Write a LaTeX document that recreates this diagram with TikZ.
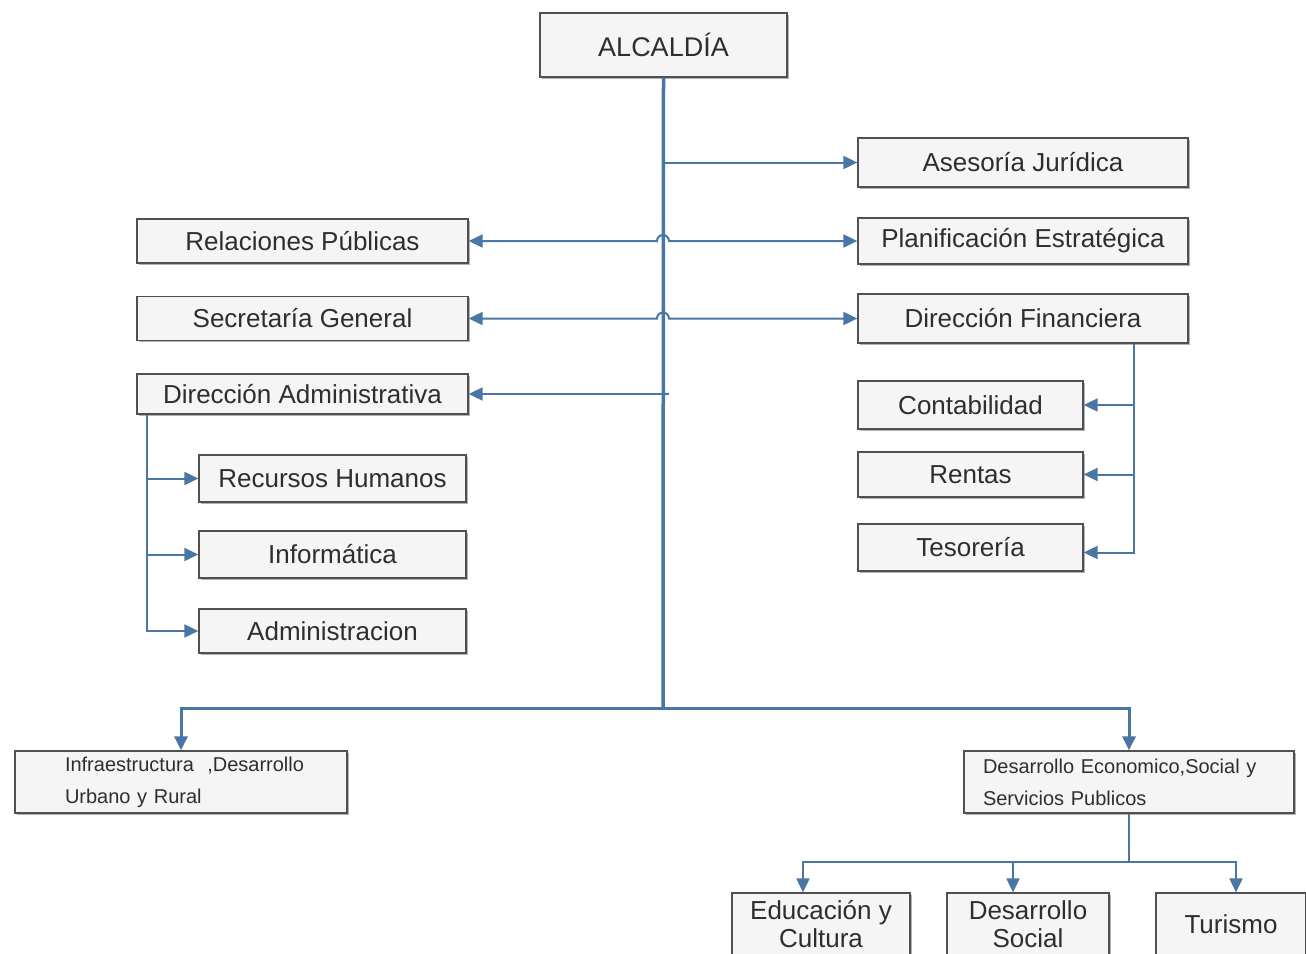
\documentclass[tikz,border=0pt]{standalone}
\usepackage{fontspec}
\setmainfont{Liberation Sans}
\usetikzlibrary{arrows.meta,shadows}
\definecolor{lblue}{HTML}{4A76A6}
\definecolor{boxline}{HTML}{505050}
\definecolor{txt}{HTML}{2E2E2E}
\tikzset{
  box/.style={draw=boxline, line width=1.3pt, fill=black!4, inner sep=0pt, text=txt,
    font=\fontsize{26}{30}\selectfont,
    copy shadow={shadow xshift=1.8pt, shadow yshift=-1.8pt, draw=none, fill=black!30}},
  smallbox/.style={box, font=\fontsize{20}{32}\selectfont, align=left},
  ln/.style={draw=lblue, line width=2pt},
  tip/.tip={Triangle[length=14pt,width=13pt]},
  arr/.style={ln, -tip},
  barr/.style={ln, tip-tip},
}
\begin{document}
\begin{tikzpicture}[x=1pt,y=-1pt]
\path[use as bounding box] (0,0) rectangle (1306,953);
\clip (0,0) rectangle (1306,953);
\fill[white] (0,0) rectangle (1306,953);

% nodes
\node[box, minimum width=247pt, minimum height=64pt, font=\fontsize{27}{30}\selectfont] (alc) at (663.5,45) {ALCALDÍA};
\node[box, minimum width=330pt, minimum height=49pt] (aj) at (1023,162.5) {Asesoría Jurídica};
\node[box, minimum width=330pt, minimum height=46pt] (pe) at (1023,241) {Planificación Estratégica};
\node[box, minimum width=330pt, minimum height=49pt] (df) at (1023,318.5) {Dirección Financiera};
\node[box, minimum width=331pt, minimum height=44pt] (rp) at (302.5,241) {Relaciones Públicas};
\node[box, minimum width=331pt, minimum height=44pt] (sg) at (302.5,318.5) {Secretaría General};
\node[box, minimum width=331pt, minimum height=40pt] (da) at (302.5,394) {Dirección Administrativa};
\node[box, minimum width=267pt, minimum height=47pt] (rh) at (332.5,478.5) {Recursos Humanos};
\node[box, minimum width=267pt, minimum height=47pt] (inf) at (332.5,554.5) {Informática};
\node[box, minimum width=267pt, minimum height=44pt] (adm) at (332.5,631) {Administracion};
\node[box, minimum width=225pt, minimum height=48pt] (con) at (970.5,405) {Contabilidad};
\node[box, minimum width=225pt, minimum height=45pt] (ren) at (970.5,474.5) {Rentas};
\node[box, minimum width=225pt, minimum height=47pt] (tes) at (970.5,547.5) {Tesorería};
\node[smallbox, minimum width=332pt, minimum height=62pt, text width=232pt, inner xsep=50pt] (iur) at (181,782)
  {\mbox{Infraestructura \ ,Desarrollo}\\\mbox{Urbano y Rural}};
\node[smallbox, minimum width=330pt, minimum height=62pt, text width=292pt, inner xsep=19pt] (dep) at (1129,782)
  {\mbox{Desarrollo Economico,Social y}\\\mbox{Servicios Publicos}};
\node[box, minimum width=178pt, minimum height=62pt, align=center, font=\fontsize{26}{28}\selectfont] (edu) at (821,924) {Educación y\\Cultura};
\node[box, minimum width=162pt, minimum height=62pt, align=center, font=\fontsize{26}{28}\selectfont] (ds) at (1028,924) {Desarrollo\\Social};
\node[box, minimum width=150pt, minimum height=62pt] (tur) at (1231,924) {Turismo};

% trunk
\coordinate (hub) at (663,708);
\draw[ln, line width=3.5pt] (alc.south) -- (hub);
\draw[arr, line width=3pt] (hub) -| (iur.north);
\draw[arr, line width=3pt] (hub) -| (dep.north);

% branches from trunk
\draw[arr] (alc.south |- aj.west) -- (aj.west);
\draw[barr] (rp.east) -- (657,241) arc (180:360:6) -- (pe.west);
\draw[barr] (sg.east) -- (657,318.5) arc (180:360:6) -- (df.west);
\draw[arr] (669,394) -- (da.east);

% Direccion Administrativa
\coordinate (dv) at ([xshift=11pt]da.south west);
\draw[arr] (dv) |- (adm.west);
\draw[arr] (dv |- rh.west) -- (rh.west);
\draw[arr] (dv |- inf.west) -- (inf.west);

% Direccion Financiera
\coordinate (fv) at ([xshift=-55pt]df.south east);
\draw[arr] (fv) |- ([yshift=-5pt]tes.east);
\draw[arr] (fv |- con.east) -- (con.east);
\draw[arr] (fv |- ren.east) -- (ren.east);

% Desarrollo Economico
\coordinate (dj) at (dep.south |- 0,862);
\draw[ln] (dep.south) -- (dj);
\draw[arr] (dj) -| ([xshift=-18pt]edu.north);
\draw[arr] (dj) -| ([xshift=5pt]tur.north);
\draw[arr] ([xshift=-15pt]ds.north |- dj) -- ([xshift=-15pt]ds.north);
\end{tikzpicture}
\end{document}
